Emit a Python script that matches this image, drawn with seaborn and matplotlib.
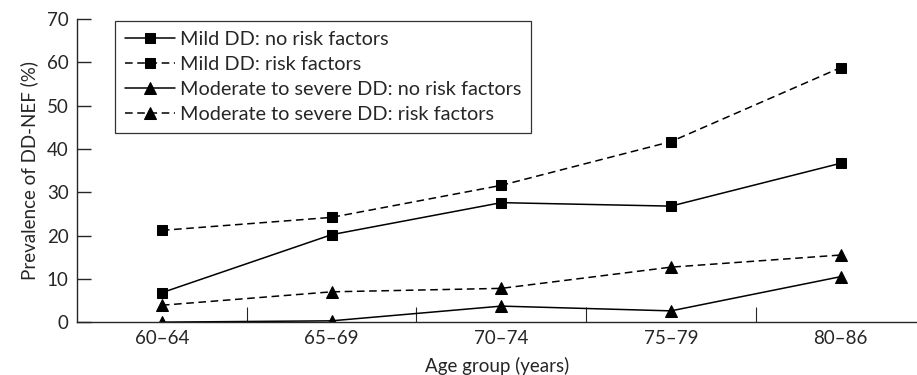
import numpy as np
import pandas as pd
import seaborn as sns
import matplotlib.pyplot as plt

# age groups on the x axis
age_groups = ['60–64', '65–69', '70–74', '75–79', '80–86']

# prevalence of DD-NEF (%)
mild_no_risk = [6.8, 20.2, 27.6, 26.8, 36.7]
mild_risk = [21.2, 24.2, 31.6, 41.7, 58.8]
modsev_no_risk = [0.0, 0.3, 3.7, 2.6, 10.5]
modsev_risk = [3.9, 7.0, 7.8, 12.7, 15.5]

series_names = ['Mild DD: no risk factors', 'Mild DD: risk factors',
                'Moderate to severe DD: no risk factors',
                'Moderate to severe DD: risk factors']
series_values = [mild_no_risk, mild_risk, modsev_no_risk, modsev_risk]

sns.set_style('ticks')
plt.rcParams['font.family'] = ['Lato', 'DejaVu Sans']

pos = np.arange(len(age_groups))
frames = []
for name, vals in zip(series_names, series_values):
    frames.append(pd.DataFrame({'pos': pos, 'value': vals, 'series': name}))
df = pd.concat(frames, ignore_index=True)

fig = plt.figure(figsize=(9.17, 3.75), dpi=100)
ax = fig.add_axes([0.084, 0.141, 0.916, 0.808])

styles = {
    series_names[0]: ('s', '-'),
    series_names[1]: ('s', (0, (5, 3))),
    series_names[2]: ('^', '-'),
    series_names[3]: ('^', (0, (5, 3))),
}
for name in series_names:
    marker, ls = styles[name]
    sub = df[df['series'] == name]
    sns.lineplot(data=sub, x='pos', y='value', ax=ax, color='black',
                 marker=marker, markersize=8.5 if marker == '^' else 7,
                 markeredgecolor='black', linewidth=1.1, linestyle=ls,
                 label=name)

fs = 13.5
ax.set_xlim(-0.5, 4.45)
ax.set_ylim(0, 70)
ax.set_yticks(range(0, 71, 10))
ax.set_xticks(pos)
ax.set_xticklabels(age_groups)
ax.tick_params(axis='x', which='major', length=0, pad=6, labelsize=fs)
ax.set_xticks(pos[:-1] + 0.5, minor=True)
ax.tick_params(axis='x', which='minor', direction='in', length=11, width=0.8)
ax.tick_params(axis='y', direction='in', length=10, width=1, labelsize=fs, pad=6)
for s in ['top', 'right']:
    ax.spines[s].set_visible(False)
ax.spines['left'].set_linewidth(1)
ax.spines['bottom'].set_linewidth(1)

ax.set_xlabel('Age group (years)', fontsize=fs, labelpad=7)
ax.set_ylabel('Prevalence of DD-NEF (%)', fontsize=fs, labelpad=6)

leg = ax.legend(loc='upper left', bbox_to_anchor=(0.043, 1.0), fontsize=14.3,
                handlelength=2.5, numpoints=1, frameon=True, fancybox=False,
                borderpad=0.5, labelspacing=0.4, handletextpad=0.25,
                borderaxespad=0.1)
leg.get_frame().set_edgecolor('black')
leg.get_frame().set_linewidth(0.9)

fig.savefig('out.png', dpi=100)
